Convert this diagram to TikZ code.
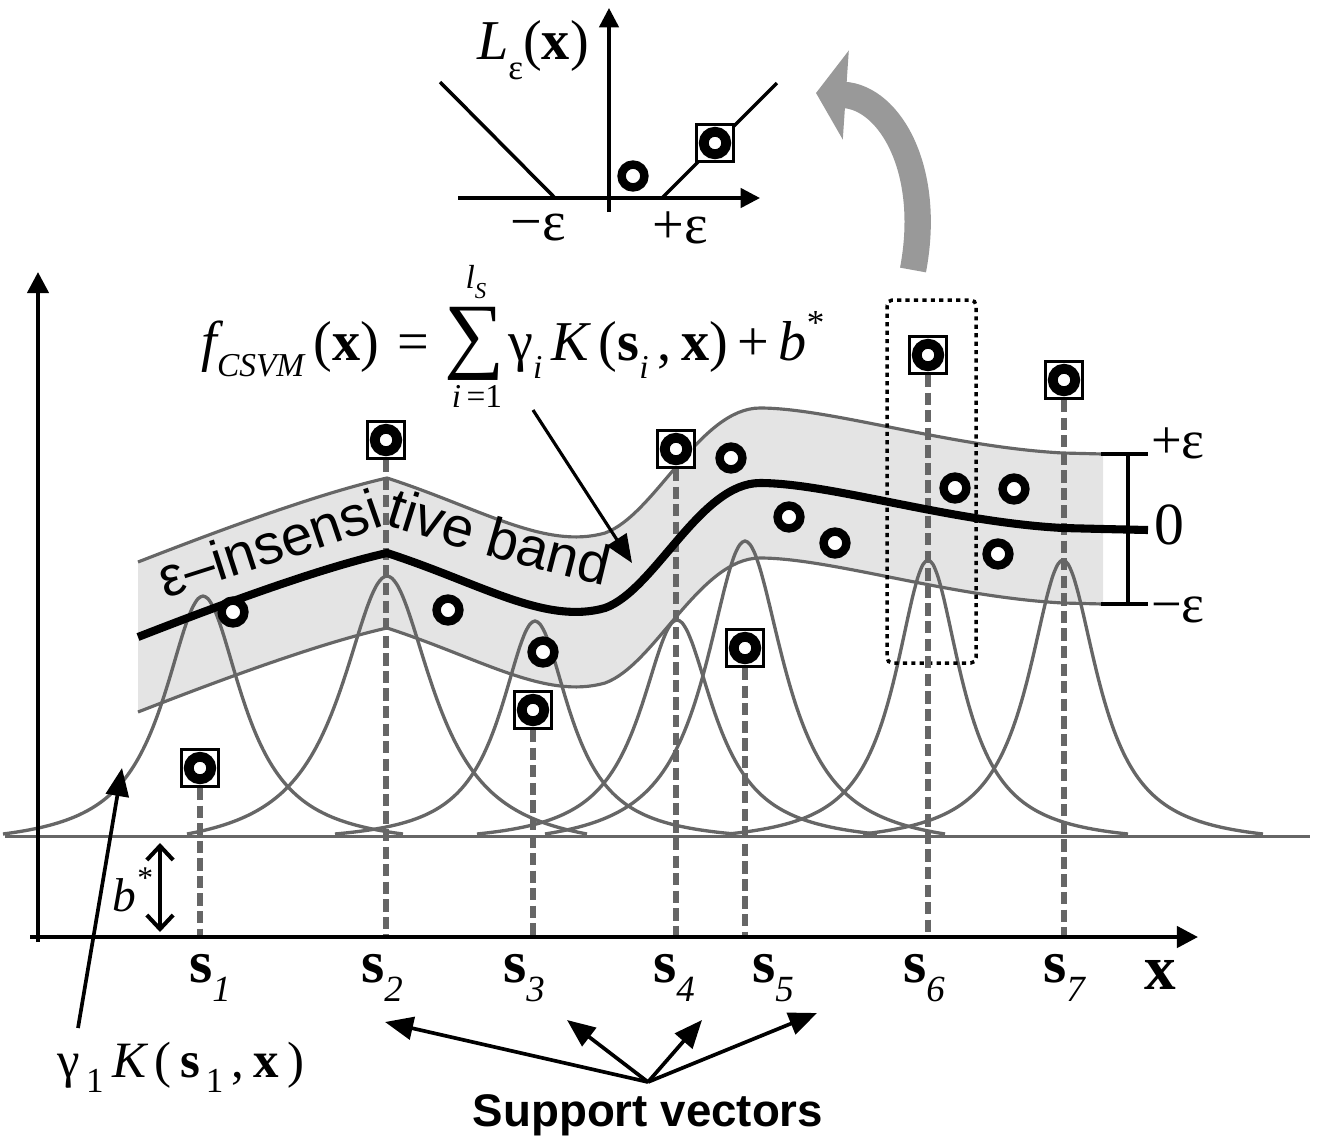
\documentclass[tikz,border=0pt]{standalone}
\usepackage{fontspec}
\setmainfont{Liberation Serif}
\setsansfont{Liberation Sans}
\usetikzlibrary{arrows.meta,decorations.text}
\definecolor{svGrey}{HTML}{666666}
\definecolor{svBand}{HTML}{E4E4E4}
\definecolor{svArc}{HTML}{999999}
\newcommand{\fsz}[1]{\fontsize{#1}{#1}\selectfont}
\newcommand{\lowidx}[1]{\raisebox{-0.3em}{\fsz{20}\,#1}}
\newcommand{\itidx}[1]{\raisebox{-0.32em}{\fsz{19}\itshape #1}}
% centre line of the band, shifted down by #1
\newcommand{\bandline}[1]{(138,{637+(#1)}) .. controls (220,{605+(#1)}) and (320,{568+(#1)}) .. (387,{553+(#1)})
  .. controls (480,{583+(#1)}) and (545,{625+(#1)}) .. (605,{608+(#1)})
  .. controls (655,{590+(#1)}) and (700,{483+(#1)}) .. (760,{483+(#1)})
  .. controls (830,{483+(#1)}) and (950,{522+(#1)}) .. (1063,{528+(#1)}) -- (1103,{529+(#1)})}

\begin{document}
\begin{tikzpicture}[x=0.02cm,y=-0.02cm,
  axis/.style={line width=2.4pt,-{Triangle[length=12pt,width=12pt]}},
  pointer/.style={line width=2.1pt,-{Triangle[length=16pt,width=13pt]}},
  bandedge/.style={svGrey,line width=1.8pt},
  bump/.style={svGrey,line width=1.9pt},
  dashv/.style={svGrey,line width=3.4pt,dash pattern=on 7pt off 3pt},
  ring/.style={circle,draw,line width=4.8pt,minimum size=13pt,inner sep=0pt,fill=white},
  svec/.style={rectangle,draw,line width=1.8pt,fill=white,minimum size=21pt,inner sep=0pt,
    path picture={\draw[line width=5.6pt] (path picture bounding box.center) circle[radius=6.4pt];}},
  lbl/.style={font=\fsz{34}},
  frm/.style={font=\fsz{32},inner sep=0pt}]
  \useasboundingbox (0,0) rectangle (1333,1144);
  \coordinate (o) at (38,937);

  % band
  \begin{scope}
    \clip \bandline{-75} -- (1103,1000) -- (138,1000) -- cycle;
    \fill[svBand] \bandline{75} -- (1103,0) -- (138,0) -- cycle;
  \end{scope}
  \draw[bandedge] \bandline{-75};
  \draw[bandedge] \bandline{75};
  \path[decorate,decoration={text along path,text align=center,
      text={|\sffamily\fsz{32}|ε–insensitive band}}]
    (140,606) .. controls (250,572) and (330,545) .. (387,525)
    .. controls (450,545) and (540,572) .. (630,592);

  % kernels
  \draw[svGrey,line width=1.7pt] (5,836) -- (1310,836);
  \foreach \c/\h/\w in {203/238/48,387/258/56,535/213/42,677/214/45,745/293/48,928/274/40,1063/274/42}{
    \draw[bump] plot[domain=-200:200,samples=81,smooth]
      ({\c+\x},{834-\h*(1/(1+(\x/\w)*(\x/\w))-1/(1+(200/\w)*(200/\w)))/(1-1/(1+(200/\w)*(200/\w)))});
  }
  \draw[line width=2pt,dash pattern=on 2.4pt off 2.4pt,rounded corners=3pt] (887,300) rectangle (976,663);

  \foreach \xx/\yy [count=\k] in {200/768,386/440,533/710,676/449,745/648,928/355,1064/380}{
    \node[svec] (sq\k) at (\xx,\yy) {};
    \draw[dashv] (sq\k.south) -- (sq\k |- o);
  }

  \draw[line width=4.6pt] \bandline{0} -- (1148,530);
  \draw[line width=2.4pt] (1101,454) -- (1148,454) (1128,454) -- (1128,604) (1101,604) -- (1148,604);
  \node[lbl,font=\fsz{31}] (pe) at (1178,443) {+ε};
  \node[lbl] (ze) at (1169,525) {0};
  \node[lbl,font=\fsz{31}] (me) at (1178,610) {−ε};

  \foreach \p [count=\k] in {(233,612),(448,610),(543,652),(731,458),(789,517),(835,543),(955,488),(1014,489),(998,554)}
    \node[ring] (c\k) at \p {};

  % axes
  \draw[axis] (38,942) -- (38,272);
  \draw[axis] (30,937) -- (1198,937);
  \coordinate (bt) at (160,843);
  \coordinate (bb) at (160,932);
  \draw[line width=2.3pt,{Straight Barb[length=8pt,width=15pt]}-{Straight Barb[length=8pt,width=15pt]}] (bt) -- (bb);
  \node[font=\fsz{27}] (bstar) at (132,890) {\itshape b\raisebox{0.5em}{\fsz{18}*}};
  \foreach \xx/\n in {210/1,382/2,524/3,674/4,773/5,924/6,1064/7}
    \node[lbl] (ls\n) at (\xx,978) {\textbf{s}\raisebox{-0.32em}{\fsz{21}\itshape\n}};
  \node[lbl,font=\fsz{36}] (lx) at (1160,975) {\textbf{x}};

  % formula
  \node[frm,anchor=base east] (flhs) at (430,360) {{\itshape f}\raisebox{-0.3em}{\fsz{19}\itshape CSVM}\,(\textbf{x})\,\,=};
  \node[frm,font=\fsz{48}] (fsum) at (475,344) {∑};
  \node[frm,font=\fsz{19}] (fsup) at (476,282) {\itshape l\raisebox{-0.3em}{\fsz{13}S}};
  \node[frm,font=\fsz{19}] (fsub) at (477,396) {{\itshape i}\,=1};
  \node[frm,anchor=base west] (frhs) at (508,360) {γ\itidx{i}\,{\itshape K}\,(\textbf{s}\itidx{i}\,,\,\textbf{x})\,+\,{\itshape b}\raisebox{0.45em}{\fsz{20}*}};
  \coordinate (fs) at (533,410);
  \coordinate (fe) at (632,563);
  \draw[line width=1.8pt,-{Triangle[length=16pt,width=13pt]}] (fs) -- (fe);

  \node[font=\fsz{29}] (gk) at (181,1067) {γ\lowidx{1}\,{\itshape K}\,(\,\textbf{s}\lowidx{1}\,,\,\textbf{x}\,)};
  \coordinate (gs) at (78,1028);
  \coordinate (ge) at (122,768);
  \draw[pointer] (gs) -- (ge);

  \node[font=\sffamily\bfseries\fsz{26}] (sv) at (648,1115) {Support vectors};
  \coordinate (svo) at (648,1082);
  \foreach \tx/\ty in {385/1022,567/1020,702/1020,817/1013}
    \draw[pointer] (svo) -- (\tx,\ty);

  % loss function inset
  \draw[line width=2pt,-{Triangle[length=11pt,width=11pt]}] (609,212) -- (609,8);
  \draw[line width=2pt,-{Triangle[length=11pt,width=11pt]}] (458,198) -- (760,198);
  \draw[line width=2pt] (440,82) -- (555,198) (662,198) -- (777,83);
  \node[ring] (ci) at (633,176) {};
  \node[svec] (si) at (715,143) {};
  \node[font=\fsz{32}] (loss) at (533,50) {{\itshape L}\raisebox{-0.35em}{\fsz{20}ε}(\textbf{x})};
  \node[font=\fsz{32}] (lme) at (538,228) {−ε};
  \node[font=\fsz{32}] (lpe) at (680,228) {+ε};

  \coordinate (arcS) at (913,270);
  \coordinate (arcE) at (816,93);
  \draw[svArc,line width=15pt,-{Triangle[length=17pt,width=50pt]}] (arcS) .. controls (932,170) and (890,98) .. (arcE);
\end{tikzpicture}
\end{document}
